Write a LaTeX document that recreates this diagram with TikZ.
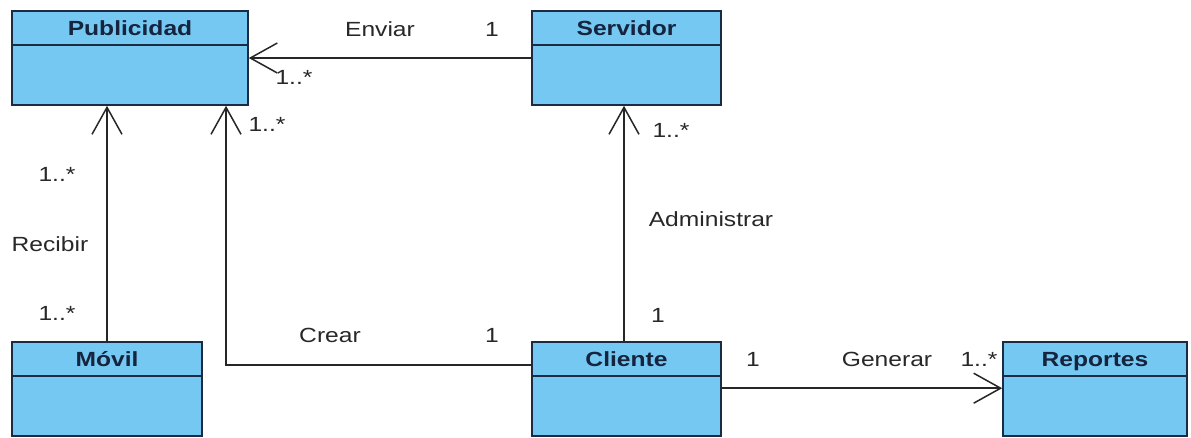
\documentclass[tikz,border=0pt]{standalone}
\usepackage{fontspec}
\setmainfont[FakeStretch=1.2]{Liberation Sans}
\usetikzlibrary{arrows.meta}
\definecolor{clsfill}{RGB}{116,200,242}
\definecolor{clsline}{RGB}{28,42,66}
\definecolor{hdrtext}{RGB}{22,36,62}
\definecolor{txt}{RGB}{40,40,40}
\tikzset{
  cls/.style={draw=clsline, fill=clsfill, line width=1.6pt, inner sep=0pt, minimum height=94pt},
  divider/.style={draw=clsline, line width=1.6pt},
  hdr/.style={font=\fontsize{20.5}{24}\selectfont\bfseries, text=hdrtext, inner sep=0pt, anchor=base},
  lbl/.style={font=\fontsize{20.5}{24}\selectfont, text=txt, inner sep=0pt},
  assoc/.style={draw=black!85, line width=1.5pt, -{Straight Barb[length=27pt,width=30pt,line width=1.5pt]}},
  plain/.style={draw=black!85, line width=1.5pt}
}
\begin{document}
\begin{tikzpicture}[x=1pt,y=-1pt]
\useasboundingbox (0,0) rectangle (1191,437);
\fill[white] (0,0) rectangle (1191,437);

% classes
\node[cls, minimum width=236pt] (pub) at (130,58) {};
\node[cls, minimum width=189pt] (srv) at (626.5,58) {};
\node[cls, minimum width=190pt] (mov) at (107,389) {};
\node[cls, minimum width=189pt] (cli) at (626.5,389) {};
\node[cls, minimum width=184pt] (rep) at (1095,389) {};

\foreach \n/\t in {pub/Publicidad, srv/Servidor, mov/Móvil, cli/Cliente, rep/Reportes}{
  \draw[divider] ([yshift=-35pt]\n.north west) -- ([yshift=-35pt]\n.north east);
  \node[hdr] (\n-h) at ([yshift=-25pt]\n.north) {\t};
}

% connectors
\draw[assoc] (srv.west) -- (pub.east);
\draw[assoc] (mov.north) -- (mov.north |- pub.south);
\draw[assoc] ([yshift=-24pt]cli.north west) -| ([xshift=96pt]pub.south);
\draw[assoc] ([xshift=-2.5pt]cli.north) -- ([xshift=-2.5pt]srv.south);
\draw[assoc] ([yshift=-47pt]cli.north east) -- ([yshift=-47pt]rep.north west);

% labels
\node[lbl] (l-enviar) at (380,29) {Enviar};
\node[lbl] (l-env1) at (492,29) {1};
\node[lbl] (l-envm) at (294,77) {1..*};
\node[lbl] (l-crm) at (267,124) {1..*};
\node[lbl] (l-recm1) at (57,174) {1..*};
\node[lbl] (l-recibir) at (50,244) {Recibir};
\node[lbl] (l-recm2) at (57,313) {1..*};
\node[lbl] (l-admm) at (671,130) {1..*};
\node[lbl] (l-adm) at (711,219) {Administrar};
\node[lbl] (l-adm1) at (658,315) {1};
\node[lbl] (l-crear) at (330,335) {Crear};
\node[lbl] (l-cr1) at (492,335) {1};
\node[lbl] (l-gen1) at (753,359) {1};
\node[lbl] (l-gen) at (887,359) {Generar};
\node[lbl] (l-genm) at (979,359) {1..*};
\end{tikzpicture}
\end{document}
